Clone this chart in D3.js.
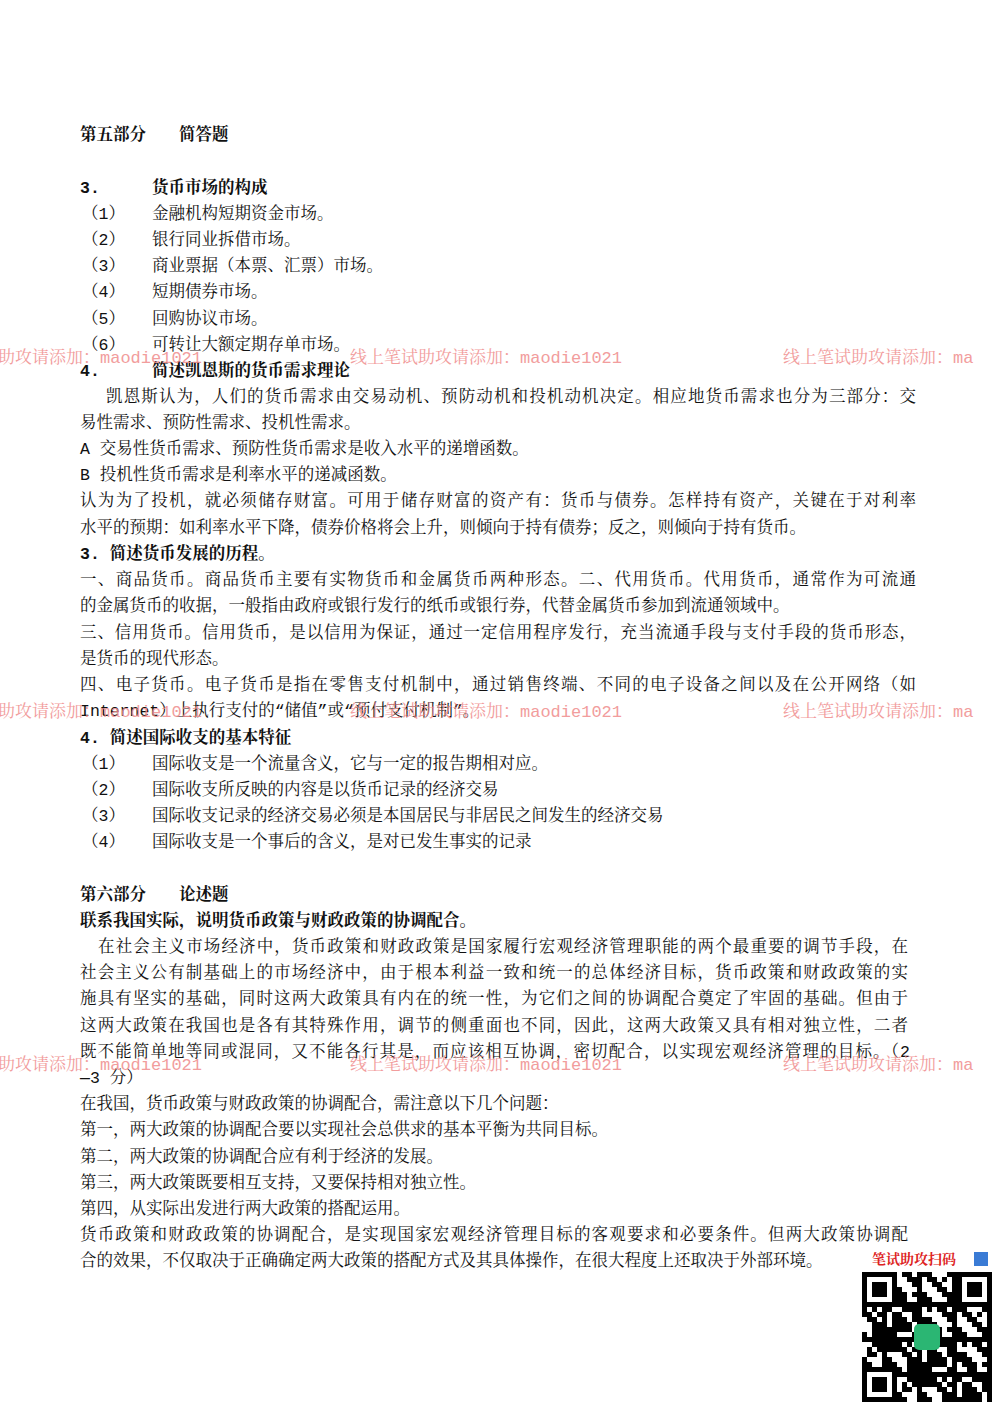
<!DOCTYPE html>
<html><head><meta charset="utf-8">
<script src="https://cdn.jsdelivr.net/npm/d3@7"></script>
<style>body{margin:0;background:#fff}</style></head>
<body><svg id="c" width="1000" height="1414"></svg>
<script>
// [text, x, y, bold, justifyTo]
const lines = [
 ["第五部分　　简答题",80,134,1,0],
 ["3.",80,187,1,0],["货币市场的构成",152,187,1,0],
 ["（1）",82,213,0,0],["金融机构短期资金市场。",152,213,0,0],
 ["（2）",82,239,0,0],["银行同业拆借市场。",152,239,0,0],
 ["（3）",82,265,0,0],["商业票据（本票、汇票）市场。",152,265,0,0],
 ["（4）",82,291,0,0],["短期债券市场。",152,291,0,0],
 ["（5）",82,318,0,0],["回购协议市场。",152,318,0,0],
 ["（6）",82,344,0,0],["可转让大额定期存单市场。",152,344,0,0],
 ["4.",80,370,1,0],["简述凯恩斯的货币需求理论",152,370,1,0],
 ["凯恩斯认为，人们的货币需求由交易动机、预防动机和投机动机决定。相应地货币需求也分为三部分：交",106,396,0,916],
 ["易性需求、预防性需求、投机性需求。",80,422,0,0],
 ["A 交易性货币需求、预防性货币需求是收入水平的递增函数。",80,448,0,0],
 ["B 投机性货币需求是利率水平的递减函数。",80,474,0,0],
 ["认为为了投机，就必须储存财富。可用于储存财富的资产有：货币与债券。怎样持有资产，关键在于对利率",80,500,0,916],
 ["水平的预期：如利率水平下降，债券价格将会上升，则倾向于持有债券；反之，则倾向于持有货币。",80,527,0,0],
 ["3.  简述货币发展的历程。",80,553,1,0],
 ["一、商品货币。商品货币主要有实物货币和金属货币两种形态。二、代用货币。代用货币，通常作为可流通",80,579,0,916],
 ["的金属货币的收据，一般指由政府或银行发行的纸币或银行券，代替金属货币参加到流通领域中。",80,605,0,0],
 ["三、信用货币。信用货币，是以信用为保证，通过一定信用程序发行，充当流通手段与支付手段的货币形态，",80,632,0,916],
 ["是货币的现代形态。",80,658,0,0],
 ["四、电子货币。电子货币是指在零售支付机制中，通过销售终端、不同的电子设备之间以及在公开网络（如",80,684,0,916],
 ["Internet）上执行支付的“储值”或“预付支付机制”。",80,710,0,0],
 ["4. 简述国际收支的基本特征",80,737,1,0],
 ["（1）",82,763,0,0],["国际收支是一个流量含义，它与一定的报告期相对应。",152,763,0,0],
 ["（2）",82,789,0,0],["国际收支所反映的内容是以货币记录的经济交易",152,789,0,0],
 ["（3）",82,815,0,0],["国际收支记录的经济交易必须是本国居民与非居民之间发生的经济交易",152,815,0,0],
 ["（4）",82,841,0,0],["国际收支是一个事后的含义，是对已发生事实的记录",152,841,0,0],
 ["第六部分　　论述题",80,894,1,0],
 ["联系我国实际，说明货币政策与财政政策的协调配合。",80,920,1,0],
 ["在社会主义市场经济中，货币政策和财政政策是国家履行宏观经济管理职能的两个最重要的调节手段，在",98,946,0,908],
 ["社会主义公有制基础上的市场经济中，由于根本利益一致和统一的总体经济目标，货币政策和财政政策的实",80,972,0,908],
 ["施具有坚实的基础，同时这两大政策具有内在的统一性，为它们之间的协调配合奠定了牢固的基础。但由于",80,998,0,908],
 ["这两大政策在我国也是各有其特殊作用，调节的侧重面也不同，因此，这两大政策又具有相对独立性，二者",80,1025,0,908],
 ["既不能简单地等同或混同，又不能各行其是，而应该相互协调，密切配合，以实现宏观经济管理的目标。（2",80,1051,0,910],
 ["—3 分）",80,1077,0,0],
 ["在我国，货币政策与财政政策的协调配合，需注意以下几个问题：",80,1103,0,0],
 ["第一，两大政策的协调配合要以实现社会总供求的基本平衡为共同目标。",80,1129,0,0],
 ["第二，两大政策的协调配合应有利于经济的发展。",80,1156,0,0],
 ["第三，两大政策既要相互支持，又要保持相对独立性。",80,1182,0,0],
 ["第四，从实际出发进行两大政策的搭配运用。",80,1208,0,0],
 ["货币政策和财政政策的协调配合，是实现国家宏观经济管理目标的客观要求和必要条件。但两大政策协调配",80,1234,0,908],
 ["合的效果，不仅取决于正确确定两大政策的搭配方式及其具体操作，在很大程度上还取决于外部环境。",80,1260,0,0]
];
const wmY = [357,711,1064];
const wmTexts = [["助攻请添加：maodie1021",-2],["线上笔试助攻请添加：maodie1021",350],["线上笔试助攻请添加：ma",783]];

const svg = d3.select("#c");
const font = "'Liberation Mono','Noto Serif CJK SC','Noto Sans CJK SC',serif";
svg.selectAll("text.l").data(lines).join("text")
 .attr("x",d=>d[1]).attr("y",d=>d[2]+6)
 .attr("font-family",font).attr("font-size",16.5)
 .attr("font-weight",d=>d[3]?700:400).attr("fill","#111")
 .each(function(d){ if(d[4]){ d3.select(this).attr("textLength",d[4]-d[1]).attr("lengthAdjust","spacing"); } })
 .text(d=>d[0]);

const wm=[]; wmY.forEach(y=>wmTexts.forEach(t=>wm.push([t[0],t[1],y])));
svg.selectAll("text.w").data(wm).join("text")
 .attr("x",d=>d[1]).attr("y",d=>d[2]+6).attr("font-family",font).attr("font-size",17)
 .attr("fill","#f08c8c").attr("opacity",0.85).text(d=>d[0]);

// QR code box
const g = svg.append("g").attr("transform","translate(862,1250)");
g.append("text").attr("x",10).attr("y",14).attr("font-family",font).attr("font-size",14).attr("font-weight",700).attr("fill","#d22").text("笔试助攻扫码");
g.append("rect").attr("x",112).attr("y",2).attr("width",14).attr("height",14).attr("fill","#3a7bd5");
const q = g.append("g").attr("transform","translate(0,22)");
const cell=5, n=26;
const seed="maodie1021";
for(let r=0;r<n;r++)for(let c=0;c<n;c++){
  const v=(seed.charCodeAt((r*7+c*3)%seed.length)*(r+1)*(c+3))%7;
  if(v<3) q.append("rect").attr("x",c*cell).attr("y",r*cell).attr("width",cell).attr("height",cell).attr("fill","#000");
}
[[0,0],[19,0],[0,19]].forEach(([cx,cy])=>{
  q.append("rect").attr("x",cx*cell).attr("y",cy*cell).attr("width",7*cell).attr("height",7*cell).attr("fill","#000");
  q.append("rect").attr("x",cx*cell+cell).attr("y",cy*cell+cell).attr("width",5*cell).attr("height",5*cell).attr("fill","#fff");
  q.append("rect").attr("x",cx*cell+2*cell).attr("y",cy*cell+2*cell).attr("width",3*cell).attr("height",3*cell).attr("fill","#000");
});
q.append("rect").attr("x",52).attr("y",52).attr("width",26).attr("height",26).attr("rx",5).attr("fill","#2bb673");
</script></body></html>
